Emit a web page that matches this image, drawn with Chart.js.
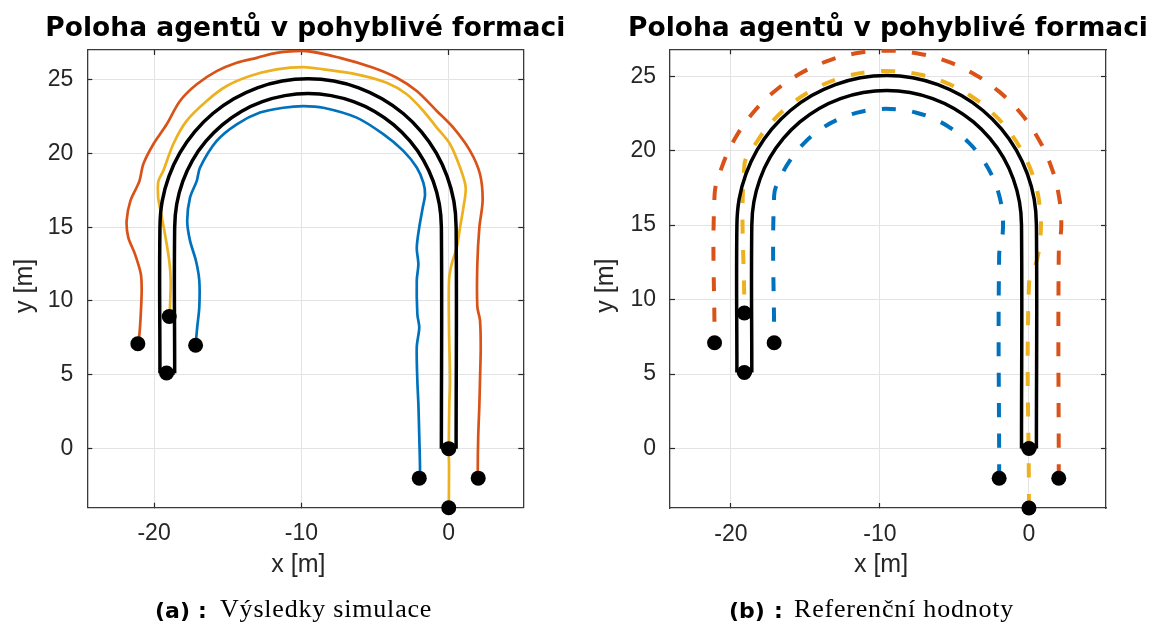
<!DOCTYPE html>
<html>
<head>
<meta charset="utf-8">
<script src="https://cdn.jsdelivr.net/npm/chart.js@4.4.1/dist/chart.umd.min.js"></script>
<style>
  body { margin: 0; background: #fff; width: 1150px; height: 623px; position: relative; overflow: hidden; }
  canvas { position: absolute; top: 0; }
  #chart-a { left: 0; }
  #chart-b { left: 580px; }
  .ttl { position: absolute; top: 14.3px; width: 600px; text-align: center; white-space: nowrap; color: #000;
         font-family: "DejaVu Sans"; font-weight: bold; font-size: 26.5px; line-height: 26.5px; }
  .cap { position: absolute; white-space: nowrap; color: #000; line-height: 1; }
  .cap-lab { font-family: "DejaVu Sans"; font-weight: bold; font-size: 22px; top: 599.5px; }
  .cap-txt { font-family: "Liberation Serif"; font-size: 26px; letter-spacing: 0.8px; top: 596px; }
</style>
</head>
<body>
<canvas id="chart-a" width="580" height="600"></canvas>
<canvas id="chart-b" width="570" height="600"></canvas>

<div class="ttl" style="left:5.3px">Poloha agentů v pohyblivé formaci</div>
<div class="ttl" style="left:588px">Poloha agentů v pohyblivé formaci</div>

<div class="cap cap-lab" style="left:155px">(a)</div>
<div class="cap cap-lab" style="left:198px">:</div>
<div class="cap cap-txt" style="left:220px">Výsledky simulace</div>

<div class="cap cap-lab" style="left:729px">(b)</div>
<div class="cap cap-lab" style="left:774px">:</div>
<div class="cap cap-txt" style="left:794px">Referenční hodnoty</div>

<script>
// ---------------------------------------------------------------------------
// Data (x, y in metres)
// ---------------------------------------------------------------------------

const xTicks = [-20, -10, 0];
const yTicks = [0, 5, 10, 15, 20, 25];

// black corridor around the leader path (same in both panels)
const leaderOuter = [[0.50,0.00],[0.50,15.00],[0.35,16.75],[-0.11,18.44],[-0.85,20.03],[-1.85,21.46],[-3.09,22.70],
  [-4.53,23.70],[-6.11,24.44],[-7.81,24.90],[-9.55,25.05],[-11.30,24.90],[-12.99,24.44],[-14.58,23.70],[-16.01,22.70],
  [-17.25,21.46],[-18.25,20.03],[-18.99,18.44],[-19.45,16.75],[-19.60,15.00],[-19.60,5.10]];
const leaderInner = [[-0.50,0.00],[-0.50,15.00],[-0.64,16.57],[-1.05,18.10],[-1.71,19.53],[-2.62,20.82],[-3.73,21.93],
  [-5.03,22.84],[-6.46,23.50],[-7.98,23.91],[-9.55,24.05],[-11.12,23.91],[-12.65,23.50],[-14.08,22.84],[-15.37,21.93],
  [-16.48,20.82],[-17.39,19.53],[-18.05,18.10],[-18.46,16.57],[-18.60,15.00],[-18.60,5.10]];
const leaderCapStart = [[-0.50,0.00],[0.50,0.00]];
const leaderCapEnd = [[-19.60,5.10],[-18.60,5.10]];

// (a) simulated trajectories
const simBlue = [[-2.00,-2.00],[-1.95,-1.45],[-2.00,0.80],[-2.06,3.00],[-2.13,4.60],[-2.17,6.90],[-2.00,8.20],[-2.13,9.10],
  [-2.17,11.40],[-2.06,12.50],[-2.17,13.60],[-2.00,15.00],[-1.77,16.30],[-1.61,17.20],[-1.72,18.00],[-2.17,19.04],
  [-3.08,20.17],[-4.44,21.30],[-6.25,22.42],[-8.51,23.09],[-9.87,23.20],[-11.23,23.09],[-12.81,22.76],[-14.39,21.97],
  [-15.75,20.84],[-16.88,19.04],[-17.10,18.14],[-17.56,17.00],[-17.75,15.44],[-17.56,14.09],[-17.16,12.74],[-16.93,11.39],
  [-16.93,9.58],[-17.07,8.23],[-17.18,7.00]];
const simYellow = [[0.00,-4.00],[0.02,-1.45],[0.00,0.00],[0.04,3.00],[0.09,4.60],[0.02,8.00],[0.02,11.40],[0.20,12.50],
  [0.54,13.60],[0.77,15.00],[0.99,16.30],[1.15,17.70],[0.77,19.04],[0.09,20.62],[-0.81,21.74],[-1.72,22.87],[-2.85,24.00],
  [-4.21,24.78],[-6.25,25.35],[-8.51,25.69],[-9.87,25.84],[-11.68,25.69],[-13.49,25.24],[-15.07,24.56],[-16.43,23.55],
  [-17.79,22.20],[-18.70,20.62],[-19.37,18.82],[-19.71,18.10],[-19.72,17.00],[-19.60,16.34],[-19.26,14.54],[-18.97,12.74],
  [-18.87,11.39],[-18.92,9.58],[-18.97,8.95]];
const simOrange = [[2.00,-2.00],[1.97,-1.40],[2.00,0.80],[2.08,3.00],[2.12,4.60],[2.17,6.90],[2.12,8.70],[1.94,9.60],
  [1.94,12.50],[2.08,15.00],[2.30,16.80],[2.12,18.60],[1.45,20.17],[0.31,21.74],[-0.81,22.87],[-2.17,24.22],[-3.53,25.12],
  [-5.12,25.80],[-7.38,26.47],[-9.64,26.93],[-11.68,26.81],[-13.03,26.47],[-14.39,26.14],[-15.75,25.57],[-17.10,24.68],
  [-18.24,23.55],[-19.14,21.97],[-20.05,20.62],[-20.73,19.27],[-21.00,18.10],[-21.60,16.80],[-21.86,15.44],[-21.75,14.31],
  [-21.30,13.19],[-20.90,11.84],[-20.84,10.71],[-20.90,9.13],[-20.99,7.78],[-21.10,7.10]];

// (b) reference trajectories
const refBlue = [[-2.00,-2.00],[-2.00,13.00],[-1.77,14.34],[-1.77,15.70],[-2.01,17.04],[-2.48,18.32],[-3.17,19.50],
  [-4.04,20.54],[-5.09,21.41],[-6.27,22.09],[-7.55,22.55],[-8.89,22.78],[-10.25,22.78],[-11.59,22.54],[-12.87,22.07],
  [-14.05,21.39],[-15.09,20.51],[-15.96,19.46],[-16.64,18.28],[-17.10,17.00],[-17.10,7.10]];
const refYellow = [[0.00,-4.00],[0.00,11.00],[0.55,12.72],[0.79,14.51],[0.72,16.31],[0.34,18.08],[-0.35,19.74],
  [-1.31,21.27],[-2.53,22.61],[-3.95,23.71],[-5.55,24.55],[-7.27,25.10],[-9.06,25.34],[-10.86,25.27],[-12.63,24.89],
  [-14.29,24.20],[-15.82,23.24],[-17.16,22.03],[-18.26,20.60],[-19.10,19.00],[-19.10,9.10]];
const refOrange = [[2.00,-2.00],[2.00,13.00],[2.17,15.04],[1.99,17.07],[1.45,19.04],[0.58,20.89],[-0.59,22.56],
  [-2.04,24.00],[-3.72,25.17],[-5.58,26.03],[-7.55,26.55],[-9.59,26.72],[-11.62,26.54],[-13.59,26.00],[-15.44,25.13],
  [-17.11,23.96],[-18.55,22.51],[-19.72,20.83],[-20.58,18.98],[-21.10,17.00],[-21.10,7.10]];

// start / end positions of the four agents
const startPts = [[-2,-2],[0,0],[2,-2],[0,-4]];
const endPtsA = [[-21.1,7.1],[-18.97,8.95],[-17.18,7.0],[-19.15,5.12]];
const endPtsB = [[-21.1,7.1],[-19.1,9.1],[-17.1,7.1],[-19.1,5.1]];

// ---------------------------------------------------------------------------
// Helpers
// ---------------------------------------------------------------------------

const C_BLUE = '#0072BD', C_ORANGE = '#D95319', C_YELLOW = '#EDB120';
const AXIS = '#262626', GRID = '#e3e3e3';
const DASH = [14, 16.5];

const pts = arr => arr.map(([x, y]) => ({ x, y }));

function lineDs(arr, color, width, dash, tension) {
  return { data: pts(arr), showLine: true, borderColor: color, borderWidth: width,
           borderDash: dash || [], pointRadius: 0, pointHoverRadius: 0, tension: tension || 0,
           borderJoinStyle: 'round', clip: 0 };
}

function markerDs(arr) {
  return { data: pts(arr), showLine: false, pointRadius: 7.5, pointHoverRadius: 7.5,
           backgroundColor: '#000', borderWidth: 0, clip: false };
}

function leaderSets() {
  return [
    lineDs(leaderCapStart, '#000', 3.5),
    lineDs(leaderCapEnd, '#000', 3.5),
    lineDs(leaderOuter, '#000', 3.5, null, 0.4),
    lineDs(leaderInner, '#000', 3.5, null, 0.4)
  ];
}

const fixTicks = vals => s => { s.ticks = vals.map(v => ({ value: v })); };

function buildChart(id, xr, yr, box, datasets) {
  const border = { color: '#3a3a3a', width: 1.3 };
  const tickFont = { family: 'Liberation Sans', size: 23 };
  const labFont = { family: 'Liberation Sans', size: 25, lineHeight: 1.2 };
  const inward = { tickLength: -5, tickColor: AXIS, tickWidth: 1.2 };
  return new Chart(document.getElementById(id), {
    type: 'scatter',
    data: { datasets },
    options: {
      responsive: false, animation: false, devicePixelRatio: 1, events: [],
      layout: { padding: { left: 0, right: box.padRight, top: box.padTop, bottom: 0 } },
      plugins: { legend: { display: false }, tooltip: { enabled: false }, title: { display: false } },
      scales: {
        x: { type: 'linear', position: 'bottom', min: xr[0], max: xr[1],
             afterBuildTicks: fixTicks(xTicks), afterFit: s => { s.height = box.xAxisH; },
             grid: { color: GRID, lineWidth: 1, drawTicks: true, ...inward }, border,
             ticks: { color: AXIS, padding: 17.5, font: tickFont, maxRotation: 0 },
             title: { display: true, text: 'x [m]  ', color: AXIS, font: labFont, padding: { top: 0, bottom: 20 } } },
        y: { type: 'linear', position: 'left', min: yr[0], max: yr[1],
             afterBuildTicks: fixTicks(yTicks), afterFit: s => { s.width = box.yAxisW; },
             grid: { color: GRID, lineWidth: 1, drawTicks: true, ...inward }, border,
             ticks: { color: AXIS, padding: 19, font: tickFont },
             title: { display: true, text: 'y [m]  ', color: AXIS, font: labFont, padding: { top: box.yTitlePad, bottom: 0 } } },
        x2: { axis: 'x', type: 'linear', position: 'top', min: xr[0], max: xr[1],
              afterBuildTicks: fixTicks(xTicks), afterFit: s => { s.height = 0; },
              grid: { drawOnChartArea: false, drawTicks: true, ...inward }, border,
              ticks: { display: false } },
        y2: { axis: 'y', type: 'linear', position: 'right', min: yr[0], max: yr[1],
              afterBuildTicks: fixTicks(yTicks), afterFit: s => { s.width = 0; },
              grid: { drawOnChartArea: false, drawTicks: true, ...inward }, border,
              ticks: { display: false } }
      }
    }
  });
}

// ---------------------------------------------------------------------------
// Panels
// ---------------------------------------------------------------------------

buildChart('chart-a', [-24.53, 5.06], [-4, 27],
  { padRight: 56.7, padTop: 50, xAxisH: 92.3, yAxisW: 87.3, yTitlePad: 10 },
  [
    markerDs(startPts.concat(endPtsA)),
    ...leaderSets(),
    lineDs(simBlue, C_BLUE, 2.7, null, 0.3),
    lineDs(simYellow, C_YELLOW, 2.7, null, 0.3),
    lineDs(simOrange, C_ORANGE, 2.7, null, 0.3)
  ]);

buildChart('chart-b', [-24.09, 5.17], [-4, 26.81],
  { padRight: 44, padTop: 49.3, xAxisH: 92, yAxisW: 90, yTitlePad: 11 },
  [
    markerDs(startPts.concat(endPtsB)),
    ...leaderSets(),
    lineDs(refBlue, C_BLUE, 4, DASH, 0.4),
    lineDs(refYellow, C_YELLOW, 4, DASH, 0.4),
    lineDs(refOrange, C_ORANGE, 4, DASH, 0.4)
  ]);
</script>
</body>
</html>
